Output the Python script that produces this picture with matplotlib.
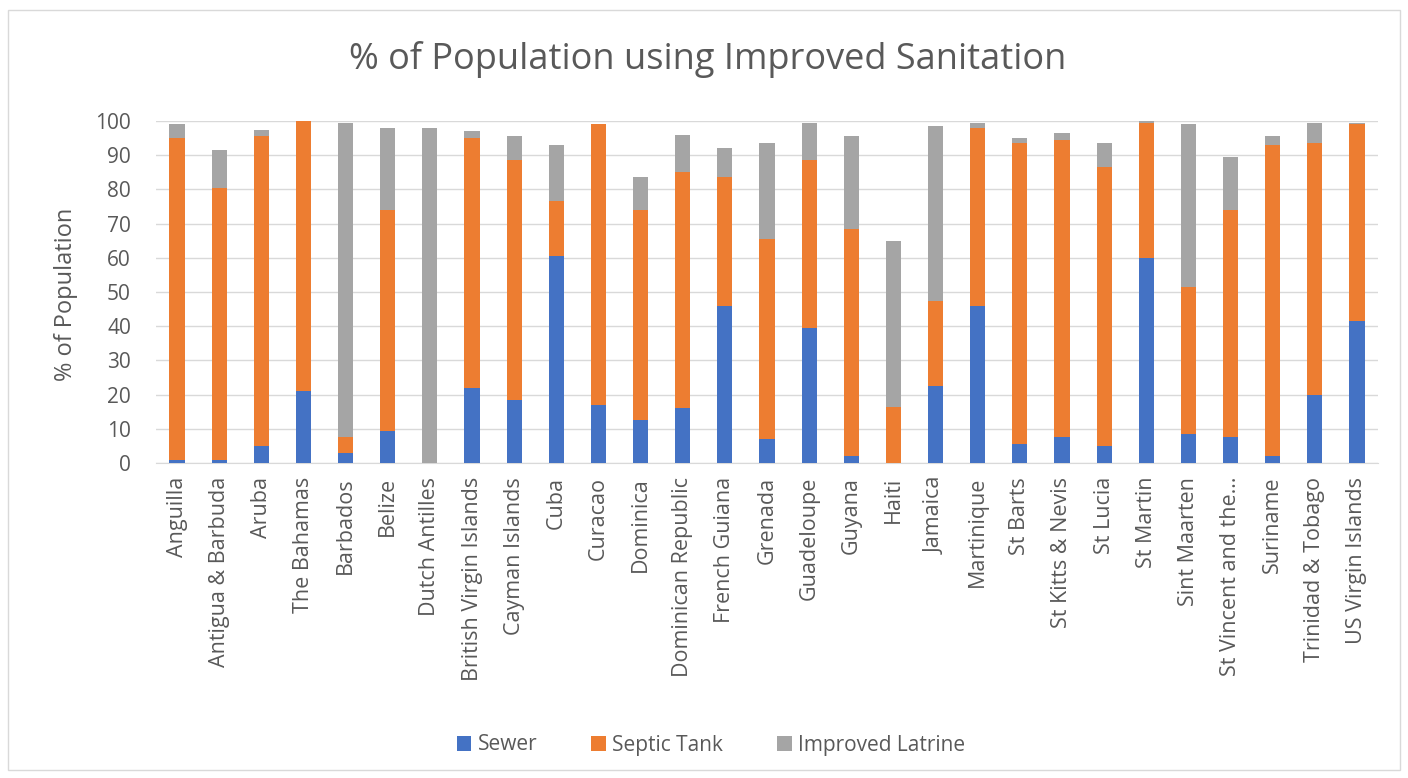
import matplotlib
matplotlib.use("Agg")
import matplotlib.pyplot as plt
from matplotlib.patches import Rectangle
import numpy as np

plt.rcParams['font.family'] = ['Open Sans', 'DejaVu Sans']

categories = ["Anguilla", "Antigua & Barbuda", "Aruba", "The Bahamas", "Barbados", "Belize",
              "Dutch Antilles", "British Virgin Islands", "Cayman Islands", "Cuba", "Curacao",
              "Dominica", "Dominican Republic", "French Guiana", "Grenada", "Guadeloupe",
              "Guyana", "Haiti", "Jamaica", "Martinique", "St Barts", "St Kitts & Nevis",
              "St Lucia", "St Martin", "Sint Maarten", "St Vincent and the\u2026", "Suriname",
              "Trinidad & Tobago", "US Virgin Islands"]
sewer = [1, 1, 5, 21, 3, 9.5, 0, 22, 18.5, 60.5, 17, 12.5, 16, 46, 7, 39.5, 2, 0, 22.5, 46,
         5.5, 7.5, 5, 60, 8.5, 7.5, 2, 20, 41.5]
septic = [94, 79.5, 90.5, 79, 4.5, 64.5, 0, 73, 70, 16, 82, 61.5, 69, 37.5, 58.5, 49, 66.5,
          16.5, 25, 52, 88, 87, 81.5, 39.5, 43, 66.5, 91, 73.5, 57.5]
latrine = [4, 11, 2, 0, 92, 24, 98, 2, 7, 16.5, 0, 9.5, 11, 8.5, 28, 11, 27, 48.5, 51, 1.5,
           1.5, 2, 7, 0.5, 47.5, 15.5, 2.5, 6, 0.5]
yticks = list(range(0, 101, 10))
series_names = ["Sewer", "Septic Tank", "Improved Latrine"]
colors = ["#4472C4", "#ED7D31", "#A5A5A5"]

W, H = 1408, 778
fig = plt.figure(figsize=(W / 100, H / 100), dpi=100)
fig.patches.append(Rectangle((8 / W, 1 - 770 / H), 1392 / W, 760 / H, transform=fig.transFigure,
                             fill=False, edgecolor="#d9d9d9", linewidth=1))

ax = fig.add_axes([156 / W, 1 - 463 / H, (1378 - 156) / W, (463 - 121) / H])
x = np.arange(len(categories))
sw = np.array(sewer); st = np.array(septic); la = np.array(latrine)
bw = 0.36
ax.bar(x, sw, bw, color=colors[0], label=series_names[0], zorder=3)
ax.bar(x, st, bw, bottom=sw, color=colors[1], label=series_names[1], zorder=3)
ax.bar(x, la, bw, bottom=sw + st, color=colors[2], label=series_names[2], zorder=3)

ax.set_xlim(-0.5, len(categories) - 0.5)
ax.set_ylim(0, 100)
ax.set_yticks(yticks)
ax.grid(axis="y", color="#d9d9d9", linewidth=1, zorder=0)
for s in ["top", "right", "left"]:
    ax.spines[s].set_visible(False)
ax.spines["bottom"].set_color("#d9d9d9")
ax.tick_params(axis="both", length=0, colors="#595959")
ax.tick_params(axis="y", pad=18, labelsize=15)
ax.set_xticks(x)
ax.set_xticklabels(categories, rotation=90, fontsize=15.5, color="#595959")
ax.tick_params(axis="x", pad=10)

fig.text(66 / W, 1 - 294 / H, "% of Population", rotation=90, ha="center", va="center",
         fontsize=17, color="#595959")

fig.text(708 / W, 1 - 60 / H, "% of Population using Improved Sanitation", ha="center",
         va="center", fontsize=26, color="#595959")

fig.legend(loc="center", bbox_to_anchor=(711 / W, 1 - 745 / H), ncol=3, frameon=False,
           fontsize=15, labelcolor="#595959", handlelength=0.7, handleheight=0.7,
           handletextpad=0.3, columnspacing=2.6)

fig.savefig("out.png", dpi=100)
